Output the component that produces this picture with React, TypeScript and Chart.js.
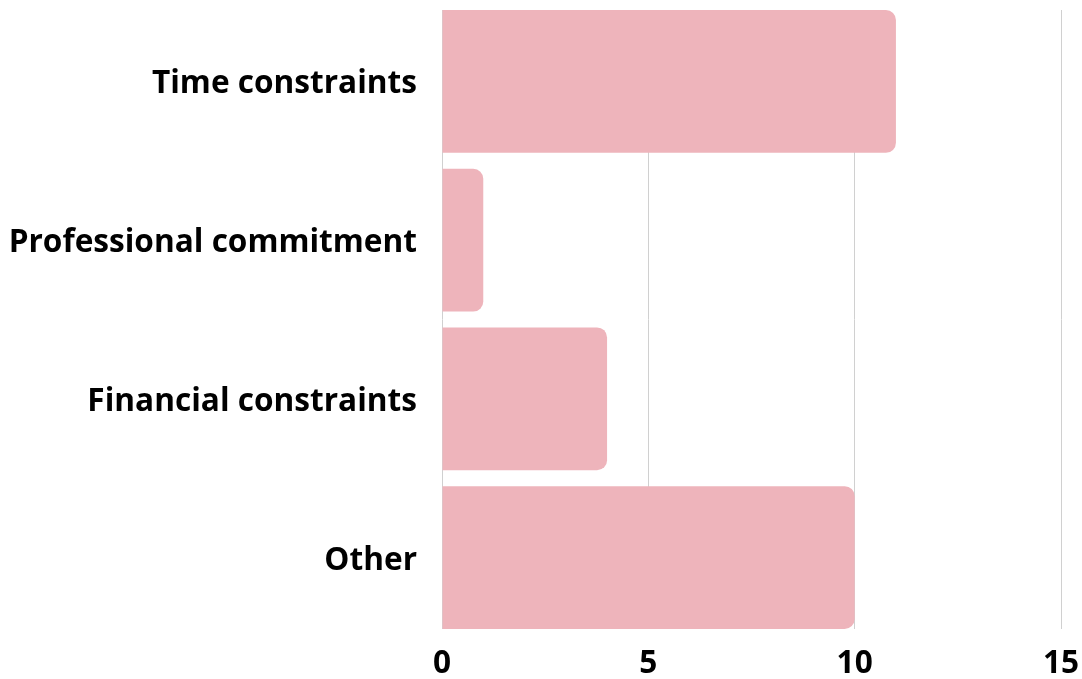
import React, { useEffect, useRef } from "react";
import { Chart, registerables } from "chart.js";

Chart.register(...registerables);

const categories = ["Time constraints", "Professional commitment", "Financial constraints", "Other"];
const counts = [11, 1, 4, 10];
const xTicks = [0, 5, 10, 15];

export default function App() {
  const ref = useRef<HTMLCanvasElement | null>(null);
  useEffect(() => {
    document.body.style.margin = "0";
    const ctx = ref.current!;
    const font = { family: "'Open Sans', 'Noto Sans', sans-serif", size: 31.6, weight: "bold" as const, lineHeight: 1 };
    const chart = new Chart(ctx, {
      type: "bar",
      data: {
        datasets: [
          {
            data: counts.map((v, i) => ({ x: v, y: i })),
            backgroundColor: "rgb(238,180,187)",
            borderWidth: 0,
            borderRadius: 10,
            barPercentage: 0.9,
            categoryPercentage: 1,
          },
        ],
      },
      options: {
        indexAxis: "y",
        animation: false,
        responsive: false,
        maintainAspectRatio: false,
        layout: { padding: { top: 10, right: 21, left: 10, bottom: 0 } },
        plugins: { legend: { display: false }, tooltip: { enabled: false } },
        scales: {
          x: {
            type: "linear",
            min: 0,
            max: 15,
            afterBuildTicks: (s: any) => {
              s.ticks = xTicks.map((v) => ({ value: v }));
            },
            afterFit: (s: any) => {
              s.paddingLeft = 0;
              s.paddingRight = 0;
              s.height = 50;
            },
            grid: { color: "#d0d0d0", drawTicks: false, lineWidth: 1 },
            border: { display: false },
            ticks: { color: "#000", font, padding: 19 },
          },
          y: {
            type: "linear",
            reverse: true,
            offset: false,
            min: -0.45,
            max: 3.45,
            afterBuildTicks: (s: any) => {
              s.ticks = categories.map((_, i) => ({ value: i }));
            },
            afterFit: (s: any) => {
              s.paddingTop = 0;
              s.paddingBottom = 0;
              s.width = 432;
            },
            grid: { display: false, drawTicks: false },
            border: { display: false },
            ticks: {
              color: "#000",
              font,
              padding: 25,
              labelOffset: 3,
              callback: (v: any) => categories[Math.round(Number(v))] ?? "",
            },
          },
        },
      },
    });
    return () => chart.destroy();
  }, []);
  return (
    <div style={{ width: 1082, height: 679 }}>
      <canvas ref={ref} width={1082} height={679} style={{ display: "block" }} />
    </div>
  );
}
